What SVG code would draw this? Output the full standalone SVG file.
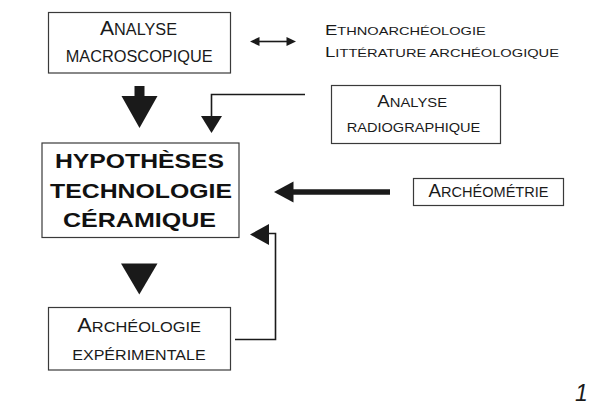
<svg xmlns="http://www.w3.org/2000/svg" width="612" height="418" viewBox="0 0 612 418">
<style>
.box{fill:#fff;stroke:#3a3a3a;stroke-width:1.2}
.t{font-family:"Liberation Sans",Arial,Helvetica,sans-serif;fill:#1a1a1a}
.b{font-family:"Liberation Sans",Arial,Helvetica,sans-serif;font-weight:bold;fill:#111}
.ln{fill:none;stroke:#1a1a1a;stroke-width:1.6}
.hd{fill:#1a1a1a}
</style>
<rect width="612" height="418" fill="#fff"/>
<g id="connectors">
  <polygon class="hd" points="134.5,86 144.5,86 144.5,96 157.5,96 139.5,128 121.5,96 134.5,96"/>
  <path class="ln" d="M305,94.5 H211.5 V117"/>
  <polygon class="hd" points="201,116 222,116 211.5,133"/>
  <line x1="290" y1="192" x2="390" y2="192" stroke="#1a1a1a" stroke-width="5.5"/>
  <polygon class="hd" points="274,192 293.5,181.5 293.5,202.5"/>
  <path class="ln" d="M235,339.5 H275.5 V233.5 H266"/>
  <polygon class="hd" points="250,234.5 269,224 269,245"/>
  <polygon class="hd" points="121,263.5 157.5,263.5 139.3,294.5"/>
  <line class="ln" x1="257" y1="41.5" x2="289" y2="41.5"/>
  <polygon class="hd" points="250,41.5 259.5,37 259.5,46"/>
  <polygon class="hd" points="296,41.5 286.5,37 286.5,46"/>
</g>
<g id="analyse-macroscopique">
  <rect class="box" x="48.5" y="12.5" width="182" height="60.5"/>
  <text class="t" x="100" y="34.5" textLength="77" lengthAdjust="spacingAndGlyphs"><tspan font-size="20.5">A</tspan><tspan font-size="15.8">NALYSE</tspan></text>
  <text class="t" x="65.7" y="62.2" font-size="15.8" textLength="147" lengthAdjust="spacingAndGlyphs">MACROSCOPIQUE</text>
</g>
<g id="ethno-litterature">
  <text class="t" x="325" y="34.5" textLength="160.7" lengthAdjust="spacingAndGlyphs"><tspan font-size="15">E</tspan><tspan font-size="11.8">THNOARCHÉOLOGIE</tspan></text>
  <text class="t" x="325" y="56.7" textLength="234" lengthAdjust="spacingAndGlyphs"><tspan font-size="15">L</tspan><tspan font-size="11.8">ITTÉRATURE ARCHÉOLOGIQUE</tspan></text>
</g>
<g id="analyse-radiographique">
  <rect class="box" x="331.5" y="85.5" width="169" height="58"/>
  <text class="t" x="377.3" y="107.3" textLength="69.7" lengthAdjust="spacingAndGlyphs"><tspan font-size="15.8">A</tspan><tspan font-size="12.5">NALYSE</tspan></text>
  <text class="t" x="346.7" y="131.7" font-size="12.6" textLength="133.6" lengthAdjust="spacingAndGlyphs">RADIOGRAPHIQUE</text>
</g>
<g id="hypotheses">
  <rect class="box" x="42" y="143" width="197" height="94.5"/>
  <text class="b" x="55" y="167.5" font-size="21" textLength="169" lengthAdjust="spacingAndGlyphs">HYPOTHÈSES</text>
  <text class="b" x="50" y="197.5" font-size="21" textLength="182" lengthAdjust="spacingAndGlyphs">TECHNOLOGIE</text>
  <text class="b" x="63" y="226.5" font-size="21" textLength="153" lengthAdjust="spacingAndGlyphs">CÉRAMIQUE</text>
</g>
<g id="archeometrie">
  <rect class="box" x="413.5" y="178.5" width="150" height="27"/>
  <text class="t" x="428.5" y="196.7" textLength="120" lengthAdjust="spacingAndGlyphs"><tspan font-size="19">A</tspan><tspan font-size="14.8">RCHÉOMÉTRIE</tspan></text>
</g>
<g id="archeologie-experimentale">
  <rect class="box" x="48.5" y="307.5" width="182" height="62.5"/>
  <text class="t" x="77.3" y="332.3" textLength="123.7" lengthAdjust="spacingAndGlyphs"><tspan font-size="20.5">A</tspan><tspan font-size="15.4">RCHÉOLOGIE</tspan></text>
  <text class="t" x="72.3" y="360" font-size="15.4" textLength="133.3" lengthAdjust="spacingAndGlyphs">EXPÉRIMENTALE</text>
</g>
<g id="figure-number">
  <text class="t" x="575" y="401" font-size="23" font-style="italic">1</text>
</g>
</svg>
